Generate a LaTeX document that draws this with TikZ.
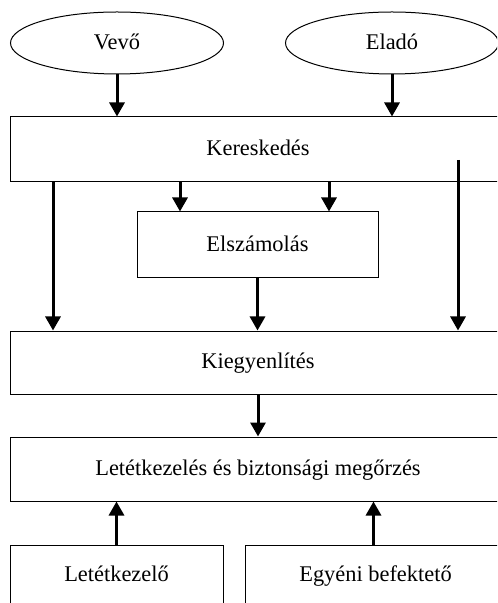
\documentclass[tikz,border=0pt]{standalone}
\usepackage{fontspec}
\setmainfont{Liberation Serif}
\usepackage{tikz}
\usetikzlibrary{shapes.geometric, arrows.meta, positioning, calc}

\begin{document}
\begin{tikzpicture}[
        x=0.5pt, y=-0.5pt,
        font=\fontsize{11.2}{13}\selectfont,
        every node/.style={text height=0.82em, text depth=0.18em},
        actor/.style={ellipse, draw, line width=0.5pt, inner sep=0pt, minimum width=106.5pt, minimum height=31pt},
        block/.style={rectangle, draw, line width=0.5pt, inner sep=0pt, minimum width=248pt, minimum height=32pt},
        party/.style={rectangle, draw, line width=0.5pt, inner sep=0pt, minimum height=30pt},
        arr/.style={line width=1.5pt, -{Triangle[length=7pt, width=7.5pt]}}
    ]
        \useasboundingbox (0,0) rectangle (497,603);
        \clip (0,0) rectangle (497,603);

        % Actors
        \node[actor] (vevo) at (117,43) {Vevő};
        \node[actor] (elado) at (392,43) {Eladó};

        % Main process blocks
        \node[block, minimum height=32.5pt] (keresk) at (258,149.5) {Kereskedés};
        \node[block, minimum width=120.5pt, minimum height=33pt] (elszam) at (257.5,245) {Elszámolás};
        \node[block, minimum height=31.5pt] (kiegy) at (258,362.5) {Kiegyenlítés};
        \node[block] (letet) at (258,469) {Letétkezelés és biztonsági megőrzés};

        % Parties at the bottom
        \node[party, minimum width=106.5pt] (letetk) at (116.5,575) {Letétkezelő};
        \node[party, minimum width=130.5pt] (egyeni) at (375.5,575) {Egyéni befektető};

        % Arrow positions
        \coordinate (colA) at (53,0);
        \coordinate (colB) at (180,0);
        \coordinate (colC) at (329,0);
        \coordinate (colD) at (458,160);

        % Actors to trading
        \draw[arr] (vevo.south) -- (vevo.south |- keresk.north);
        \draw[arr] (elado.south) -- (elado.south |- keresk.north);

        % Trading to clearing
        \draw[arr] (colB |- keresk.south) -- (colB |- elszam.north);
        \draw[arr] (colC |- keresk.south) -- (colC |- elszam.north);

        % Direct to settlement
        \draw[arr] (colA |- keresk.south) -- (colA |- kiegy.north);
        \draw[arr] (colD) -- (colD |- kiegy.north);
        \draw[arr] (elszam.south) -- (elszam.south |- kiegy.north);

        % Settlement to custody
        \draw[arr] (kiegy.south) -- (kiegy.south |- letet.north);

        % Parties to custody
        \draw[arr] (letetk.north) -- (letetk.north |- letet.south);
        \draw[arr] ([xshift=-1pt]egyeni.north) -- ([xshift=-1pt]egyeni.north |- letet.south);
    \end{tikzpicture}
\end{document}
